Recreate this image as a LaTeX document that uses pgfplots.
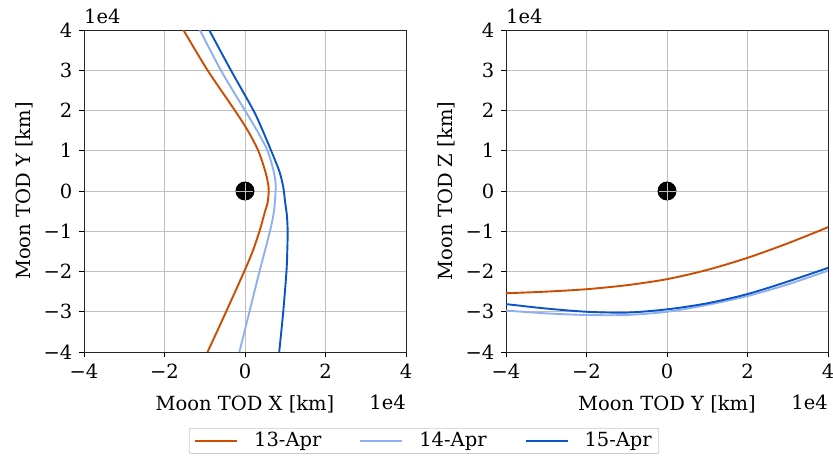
\documentclass[border=0pt]{standalone}
\usepackage{fontspec}
\setmainfont{DejaVu Serif}
\usepackage{pgfplots}
\pgfplotsset{compat=1.18}
\definecolor{corange}{RGB}{204,76,2}
\definecolor{clight}{RGB}{141,176,240}
\definecolor{cdark}{RGB}{10,84,200}
\newcommand{\fs}{\fontsize{19.5}{22}\selectfont}
\begin{document}
\fs
\begin{tikzpicture}
\useasboundingbox (-84pt,-107pt) rectangle (749pt,352pt);
\pgfplotsset{
  myaxis/.style={
    scale only axis, width=322pt, height=322pt,
    clip mode=individual,
    xmin=-4, xmax=4, ymin=-4, ymax=4,
    xtick={-4,-2,0,2,4}, ytick={-4,-3,-2,-1,0,1,2,3,4},
    xticklabels={−4,−2,0,2,4},
    yticklabels={−4,−3,−2,−1,0,1,2,3,4},
    grid=major, grid style={gray!50, line width=0.9pt},
    axis line style={black!85, line width=0.9pt},
    tick style={black, line width=0.9pt},
    tick align=outside, major tick length=5pt,
    xtick pos=bottom, ytick pos=left,
    ticklabel style={font=\fs},
    label style={font=\fs},
    every axis x label/.style={at={(ticklabel cs:0.5)}, anchor=center, yshift=-19pt},
    every axis y label/.style={at={(ticklabel cs:0.5)}, anchor=center, rotate=90, yshift=13pt},
    every axis plot/.append style={line width=1.9pt},
  }
}
\begin{axis}[myaxis, at={(0pt,0pt)}, anchor=south west,
  xlabel={Moon TOD X [km]}, ylabel={Moon TOD Y [km]},
  legend columns=3,
  legend style={at={(1.056,-0.276)}, anchor=center, draw=black!20, rounded corners=2pt,
    font=\fs, line width=0.8pt, inner xsep=5pt, inner ysep=2pt,
    /tikz/every odd column/.append style={column sep=14pt},
    /tikz/every even column/.append style={column sep=36pt}},
  legend image code/.code={\draw[#1, line width=1.9pt] (0pt,0pt) -- (42pt,0pt);},
]
\addplot[corange, smooth] coordinates {(-1.53,4) (-0.93,3) (-0.25,2) (0.07,1.5) (0.33,1) (0.50,0.5) (0.57,0.2) (0.59,0) (0.56,-0.3) (0.50,-0.5) (0.36,-1) (0.19,-1.5) (-0.02,-2) (-0.47,-3) (-0.93,-4)};
\addlegendentry{13-Apr}
\addplot[clight, smooth] coordinates {(-1.12,4) (-0.60,3) (0.0,2) (0.30,1.5) (0.56,1) (0.71,0.5) (0.76,0.2) (0.76,0) (0.72,-0.5) (0.62,-1) (0.36,-2) (0.11,-3) (-0.14,-4)};
\addlegendentry{14-Apr}
\addplot[cdark, smooth] coordinates {(-0.89,4) (-0.35,3) (0.21,2) (0.44,1.5) (0.65,1) (0.85,0.5) (0.95,0.1) (1.0,-0.3) (1.04,-0.6) (1.06,-1) (1.05,-1.5) (1.03,-2) (0.95,-3) (0.85,-4)};
\addlegendentry{15-Apr}
\addplot[only marks, mark=*, mark size=8.5pt, black, forget plot] coordinates {(0,0)};
\addplot[only marks, mark=+, mark size=8.5pt, gray!50, mark options={line width=0.9pt}, forget plot] coordinates {(0,0)};
\node[anchor=base west, inner sep=0pt] at (rel axis cs:0,1) [yshift=7pt] {1e4};
\node[anchor=base east, inner sep=0pt] at (rel axis cs:1,0) [yshift=-57pt] {1e4};
\end{axis}
\begin{axis}[myaxis, at={(422pt,0pt)}, anchor=south west,
  xlabel={Moon TOD Y [km]}, ylabel={Moon TOD Z [km]}]
\addplot[corange, smooth] coordinates {(-4,-2.54) (-3,-2.50) (-2,-2.44) (-1,-2.34) (0,-2.19) (1,-1.96) (2,-1.66) (3,-1.30) (4,-0.90)};
\addplot[clight, smooth] coordinates {(-4,-2.97) (-3,-3.04) (-2,-3.08) (-1,-3.08) (0,-3.0) (1,-2.83) (2,-2.61) (3,-2.32) (4,-1.98)};
\addplot[cdark, smooth] coordinates {(-4,-2.81) (-3,-2.92) (-2,-3.0) (-1,-3.02) (0,-2.94) (1,-2.79) (2,-2.56) (3,-2.25) (4,-1.91)};
\addplot[only marks, mark=*, mark size=8.5pt, black] coordinates {(0,0)};
\addplot[only marks, mark=+, mark size=8.5pt, gray!50, mark options={line width=0.9pt}] coordinates {(0,0)};
\node[anchor=base west, inner sep=0pt] at (rel axis cs:0,1) [yshift=7pt] {1e4};
\node[anchor=base east, inner sep=0pt] at (rel axis cs:1,0) [yshift=-57pt] {1e4};
\end{axis}
\end{tikzpicture}
\end{document}
